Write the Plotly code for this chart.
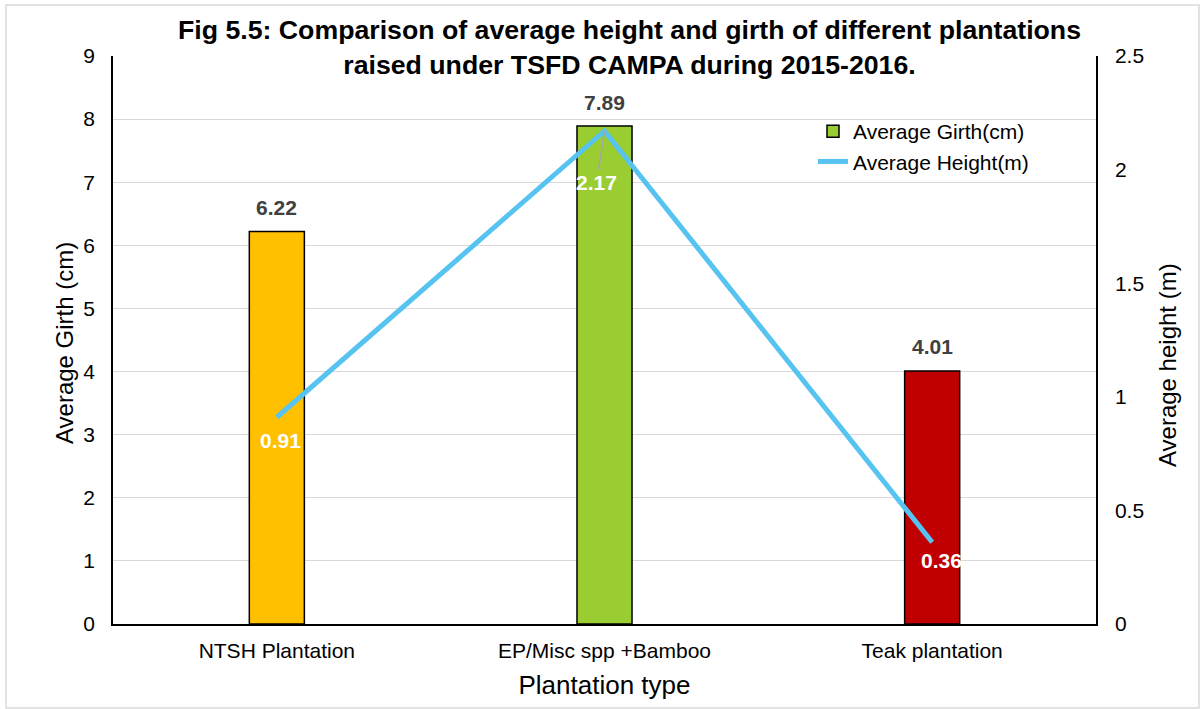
import plotly.graph_objects as go

# Plantation categories and measured averages
plantations = ["NTSH Plantation", "EP/Misc spp +Bamboo", "Teak plantation"]
avg_girth_cm = [6.22, 7.89, 4.01]
avg_height_m = [0.91, 2.17, 0.36]
bar_colors = ["#FFC000", "#9ACD32", "#C00000"]
legend_bar_color = "#9ACD32"

girth_ticks = list(range(0, 10))
height_ticks = [0, 0.5, 1, 1.5, 2, 2.5]

FONT = "Liberation Sans, Arial, sans-serif"
W, H = 1202, 709
L, R, T, B = 113, 106, 56, 85
PW, PH = W - L - R, H - T - B


def px_x(p):
    return (p - L) / PW


def px_y(p):
    return (H - B - p) / PH


fig = go.Figure()

fig.add_trace(go.Bar(
    x=plantations, y=avg_girth_cm, name="Average Girth(cm)",
    marker=dict(color=bar_colors, line=dict(color="#000000", width=1.5)),
    width=0.168, yaxis="y", showlegend=False,
))
# legend entry for the girth bars
fig.add_trace(go.Bar(
    x=[None], y=[None], name="Average Girth(cm)",
    marker=dict(color=legend_bar_color, line=dict(color="#000000", width=1.5)),
    yaxis="y", showlegend=True,
))

fig.add_trace(go.Scatter(
    x=plantations, y=avg_height_m, name="Average Height(m)",
    mode="lines", line=dict(color="#57C3F0", width=5),
    yaxis="y2",
))

annotations = []
# Girth value labels above each bar
for cat, v in zip(plantations, avg_girth_cm):
    annotations.append(dict(
        x=cat, y=v, xref="x", yref="y", text=f"<b>{v:.2f}</b>", showarrow=False,
        yshift=24, font=dict(family=FONT, size=21, color="#404040"),
    ))

# Height value labels in white next to each line vertex
height_offsets = [(4, -23, False), (-8, 52, True), (9, -18, False)]
for cat, v, (dx, dy, arrow) in zip(plantations, avg_height_m, height_offsets):
    if arrow:
        annotations.append(dict(
            x=cat, y=v, xref="x", yref="y2", text=f"<b>{v:.2f}</b>",
            showarrow=True, arrowhead=0, arrowwidth=1.5, arrowcolor="#A6A6A6",
            ax=dx, ay=dy, font=dict(family=FONT, size=21, color="#FFFFFF"),
        ))
    else:
        annotations.append(dict(
            x=cat, y=v, xref="x", yref="y2", text=f"<b>{v:.2f}</b>", showarrow=False,
            xshift=dx, yshift=dy, font=dict(family=FONT, size=21, color="#FFFFFF"),
        ))

# Axis titles
annotations.append(dict(
    x=px_x(65), y=px_y(343), xref="paper", yref="paper", xanchor="center", yanchor="middle",
    text="Average Girth (cm)", textangle=-90, showarrow=False,
    font=dict(family=FONT, size=24, color="#000000"),
))
annotations.append(dict(
    x=px_x(1167), y=px_y(365), xref="paper", yref="paper", xanchor="center", yanchor="middle",
    text="Average height (m)", textangle=-90, showarrow=False,
    font=dict(family=FONT, size=24, color="#000000"),
))
# Chart title
annotations.append(dict(
    x=px_x(629), y=px_y(47.5), xref="paper", yref="paper", xanchor="center", yanchor="middle",
    text="<b>Fig 5.5: Comparison of average height and girth of different plantations<br>"
         "raised under TSFD CAMPA during 2015-2016.</b>",
    showarrow=False, font=dict(family=FONT, size=26.7, color="#000000"),
))

fig.update_layout(
    width=W, height=H,
    margin=dict(l=L, r=R, t=T, b=B, autoexpand=False),
    paper_bgcolor="#FFFFFF", plot_bgcolor="#FFFFFF",
    font=dict(family=FONT, color="#000000"),
    barmode="overlay",
    xaxis=dict(
        showline=True, linecolor="#000000", linewidth=1.5,
        showgrid=False, ticks="", tickfont=dict(family=FONT, size=21, color="#000000"),
        ticklabelstandoff=7,
        title=dict(text="Plantation type", font=dict(family=FONT, size=26, color="#000000"),
                   standoff=15),
    ),
    yaxis=dict(
        range=[0, 9], tickvals=girth_ticks, showline=True, linecolor="#000000", linewidth=1.5,
        showgrid=True, gridcolor="#D9D9D9", gridwidth=1, zeroline=False, ticks="",
        tickfont=dict(family=FONT, size=21, color="#000000"), ticklabelstandoff=12,
    ),
    yaxis2=dict(
        range=[0, 2.5], tickvals=height_ticks, overlaying="y", side="right",
        showline=True, linecolor="#000000", linewidth=1.5, showgrid=False,
        zeroline=False, ticks="",
        tickfont=dict(family=FONT, size=21, color="#000000"), ticklabelstandoff=13,
    ),
    legend=dict(
        x=px_x(813), y=px_y(111),
        xanchor="left", yanchor="top", bgcolor="rgba(0,0,0,0)",
        font=dict(family=FONT, size=21, color="#000000"),
        traceorder="normal",
    ),
    annotations=annotations,
    shapes=[dict(
        type="rect", xref="paper", yref="paper", layer="below",
        x0=px_x(6), x1=px_x(1199), y0=px_y(708), y1=px_y(5),
        line=dict(color="#D9D9D9", width=1.5), fillcolor="rgba(0,0,0,0)",
    )],
)

fig.write_html("out.html")
